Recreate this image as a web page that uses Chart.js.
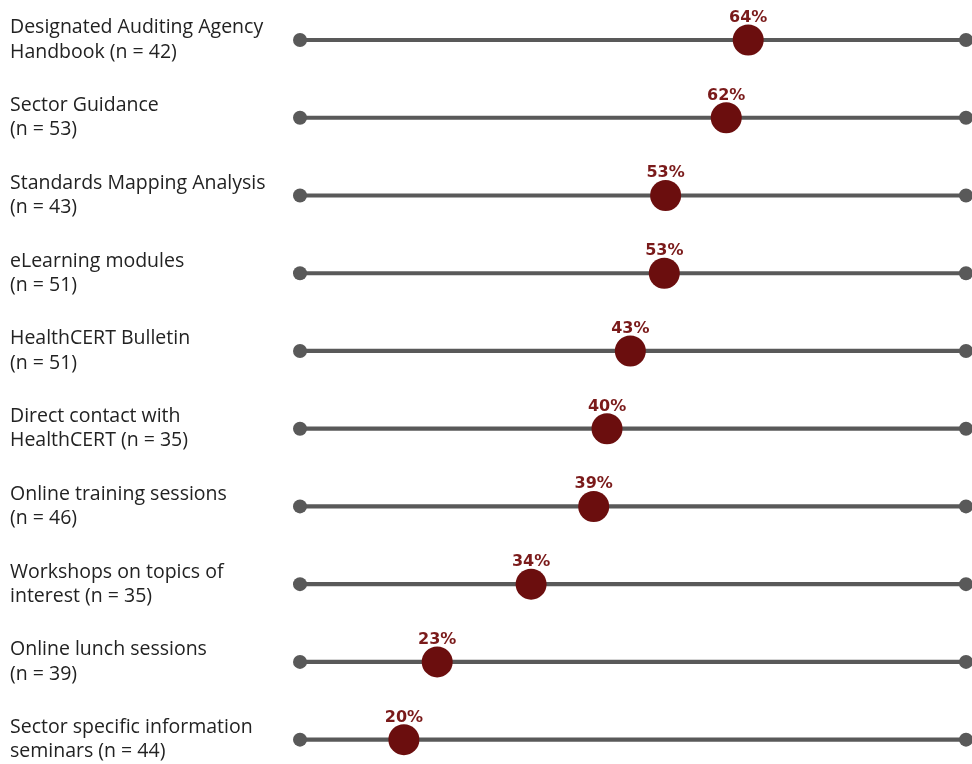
<!DOCTYPE html>
<html>
<head>
<meta charset="utf-8">
<script src="https://cdn.jsdelivr.net/npm/chart.js@4.4.1/dist/chart.umd.min.js"></script>
<style>
  html, body { margin: 0; padding: 0; background: #fff; }
  #wrap { width: 972px; height: 764px; }
</style>
</head>
<body>
<div id="wrap"><canvas id="chart"></canvas></div>
<script>
// --- Datos ---
const categories = [
  ['Designated Auditing Agency', 'Handbook (n = 42)'],
  ['Sector Guidance', '(n = 53)'],
  ['Standards Mapping Analysis', '(n = 43)'],
  ['eLearning modules', '(n = 51)'],
  ['HealthCERT Bulletin', '(n = 51)'],
  ['Direct contact with', 'HealthCERT (n = 35)'],
  ['Online training sessions', '(n = 46)'],
  ['Workshops on topics of', 'interest (n = 35)'],
  ['Online lunch sessions', '(n = 39)'],
  ['Sector specific information', 'seminars (n = 44)']
];
// porcentaje mostrado encima de cada punto
const pctLabels = [64, 62, 53, 53, 43, 40, 39, 34, 23, 20];
// posicion del punto sobre la barra (0 = extremo izq., 100 = extremo der.)
const dotPos = [67.3, 64.0, 54.9, 54.7, 49.6, 46.1, 44.1, 34.7, 20.6, 15.6];
const trackStart = [0, 0, 0, 0, 0, 0, 0, 0, 0, 0];
const trackEnd = [100, 100, 100, 100, 100, 100, 100, 100, 100, 100];

const trackColor = '#595959';
const dotColor = '#6b0e0e';
const pctColor = '#7a1a1a';

// plugin para escribir el % encima de cada punto
const pctLabelPlugin = {
  id: 'pctLabels',
  afterDatasetsDraw(chart) {
    const meta = chart.getDatasetMeta(3);
    const ctx = chart.ctx;
    ctx.save();
    ctx.font = 'bold 16px "DejaVu Sans", sans-serif';
    ctx.fillStyle = pctColor;
    ctx.textAlign = 'center';
    ctx.textBaseline = 'alphabetic';
    meta.data.forEach((pt, i) => {
      ctx.fillText(pctLabels[i] + '%', pt.x, pt.y - 18);
    });
    ctx.restore();
  }
};

new Chart(document.getElementById('chart'), {
  type: 'bar',
  data: {
    labels: categories,
    datasets: [
      {
        // barra gris
        data: trackStart.map((s, i) => [s, trackEnd[i]]),
        backgroundColor: trackColor,
        barThickness: 3.5,
        borderSkipped: false,
        clip: false,
        order: 4
      },
      {
        type: 'line',
        data: trackStart,
        showLine: false,
        pointRadius: 7,
        pointBackgroundColor: trackColor,
        pointBorderWidth: 0,
        clip: false,
        order: 3
      },
      {
        type: 'line',
        data: trackEnd,
        showLine: false,
        pointRadius: 7,
        pointBackgroundColor: trackColor,
        pointBorderWidth: 0,
        clip: false,
        order: 2
      },
      {
        type: 'line',
        data: dotPos,
        showLine: false,
        pointRadius: 15.5,
        pointBackgroundColor: dotColor,
        pointBorderWidth: 0,
        clip: false,
        order: 1
      }
    ]
  },
  options: {
    indexAxis: 'y',
    responsive: true,
    maintainAspectRatio: false,
    animation: false,
    layout: { autoPadding: false, padding: { top: 40, bottom: 21, left: 10, right: 6 } },
    scales: {
      x: {
        type: 'linear',
        min: 0,
        max: 100,
        display: false
      },
      y: {
        offset: false,
        grid: { display: false, drawTicks: false },
        border: { display: false },
        afterFit: (scale) => { scale.width = 290; },
        ticks: {
          crossAlign: 'far',
          padding: 0,
          color: '#222',
          font: { family: '"Open Sans", sans-serif', size: 19.5, lineHeight: 1.25 }
        }
      }
    },
    plugins: {
      legend: { display: false },
      tooltip: { enabled: false }
    }
  },
  plugins: [pctLabelPlugin]
});
</script>
</body>
</html>
